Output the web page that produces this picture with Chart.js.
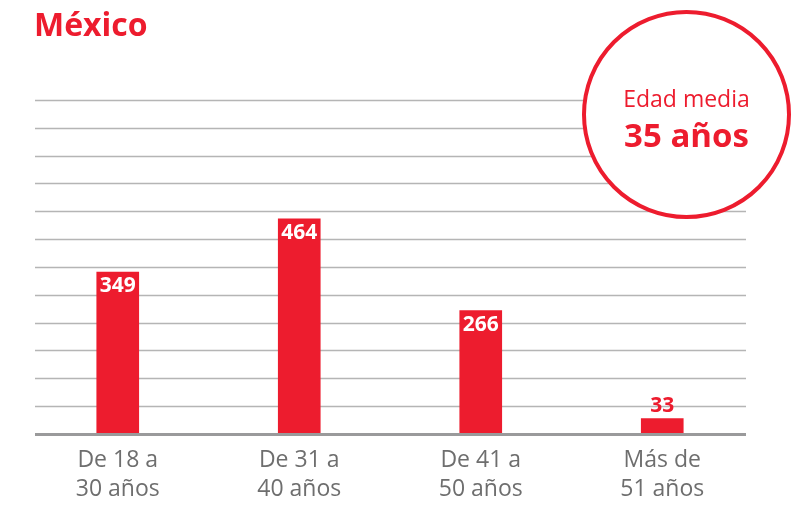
<!DOCTYPE html>
<html><head><meta charset="utf-8">
<script src="https://cdn.jsdelivr.net/npm/chart.js@4.4.0/dist/chart.umd.min.js"></script>
<style>
html,body{margin:0;padding:0;background:#fff;}
#wrap{position:relative;width:808px;height:508px;overflow:hidden;}
#title{position:absolute;left:34px;top:2px;font:700 32px "Open Sans",sans-serif;color:#ED1C2E;}
#circle{position:absolute;left:582px;top:10px;width:201px;height:201px;border:4px solid #ED1C2E;border-radius:50%;background:#fff;text-align:center;color:#ED1C2E;font-family:"Open Sans",sans-serif;}
#c1{position:absolute;left:0;right:0;top:68px;font-size:23px;font-weight:400;}
#c2{position:absolute;left:0;right:0;top:98px;font-size:33px;font-weight:700;}
canvas{position:absolute;left:0;top:0;}
</style></head>
<body><div id="wrap"><canvas id="ch" width="808" height="508"></canvas>
<div id="title">México</div>
<div id="circle"><div id="c1">Edad media</div><div id="c2">35 años</div></div>
</div>
<script>
const categories = [["De 18 a","30 años"],["De 31 a","40 años"],["De 41 a","50 años"],["Más de","51 años"]];
const values = [349, 464, 266, 33];
const yMax = 720;
const yStep = 60;
const red = '#ED1C2E';

const gridPlugin = {
  id:'grid',
  beforeDatasetsDraw(chart){
    const y = chart.scales.y, ctx = chart.ctx;
    ctx.save();
    for(let v=yStep; v<=yMax; v+=yStep){
      const py = Math.round(y.getPixelForValue(v))+0.5;
      ctx.strokeStyle='#b5b5b5'; ctx.lineWidth=1.5;
      ctx.beginPath(); ctx.moveTo(35,py); ctx.lineTo(746,py); ctx.stroke();
    }
    ctx.restore();
  },
  afterDatasetsDraw(chart){
    const y = chart.scales.y, ctx = chart.ctx;
    ctx.save();
    const py = y.getPixelForValue(0)+0.5;
    ctx.strokeStyle='#9a9a9b'; ctx.lineWidth=3;
    ctx.beginPath(); ctx.moveTo(35,py); ctx.lineTo(746,py); ctx.stroke();
    const meta = chart.getDatasetMeta(0);
    ctx.font='700 21px "Open Sans",sans-serif';
    ctx.textAlign='center'; ctx.textBaseline='middle';
    meta.data.forEach((bar,i)=>{
      const h = bar.base - bar.y;
      if(h>40){ ctx.fillStyle='#fff'; ctx.fillText(String(values[i]), bar.x, bar.y+14); }
      else { ctx.fillStyle=red; ctx.fillText(String(values[i]), bar.x, bar.y-13); }
    });
    ctx.restore();
  }
};

new Chart(document.getElementById('ch'),{
  type:'bar',
  data:{labels:categories,datasets:[{data:values,backgroundColor:red,barThickness:42}]},
  options:{
    responsive:false,animation:false,
    layout:{padding:{left:27,right:55,top:100,bottom:0}},
    plugins:{legend:{display:false},tooltip:{enabled:false}},
    scales:{
      x:{grid:{display:false},border:{display:false},
         ticks:{color:'#6e6e6e',font:{family:'"Open Sans",sans-serif',size:23,lineHeight:1.22},padding:5}},
      y:{display:false,min:0,max:yMax}
    }
  },
  plugins:[gridPlugin]
});
</script></body></html>
